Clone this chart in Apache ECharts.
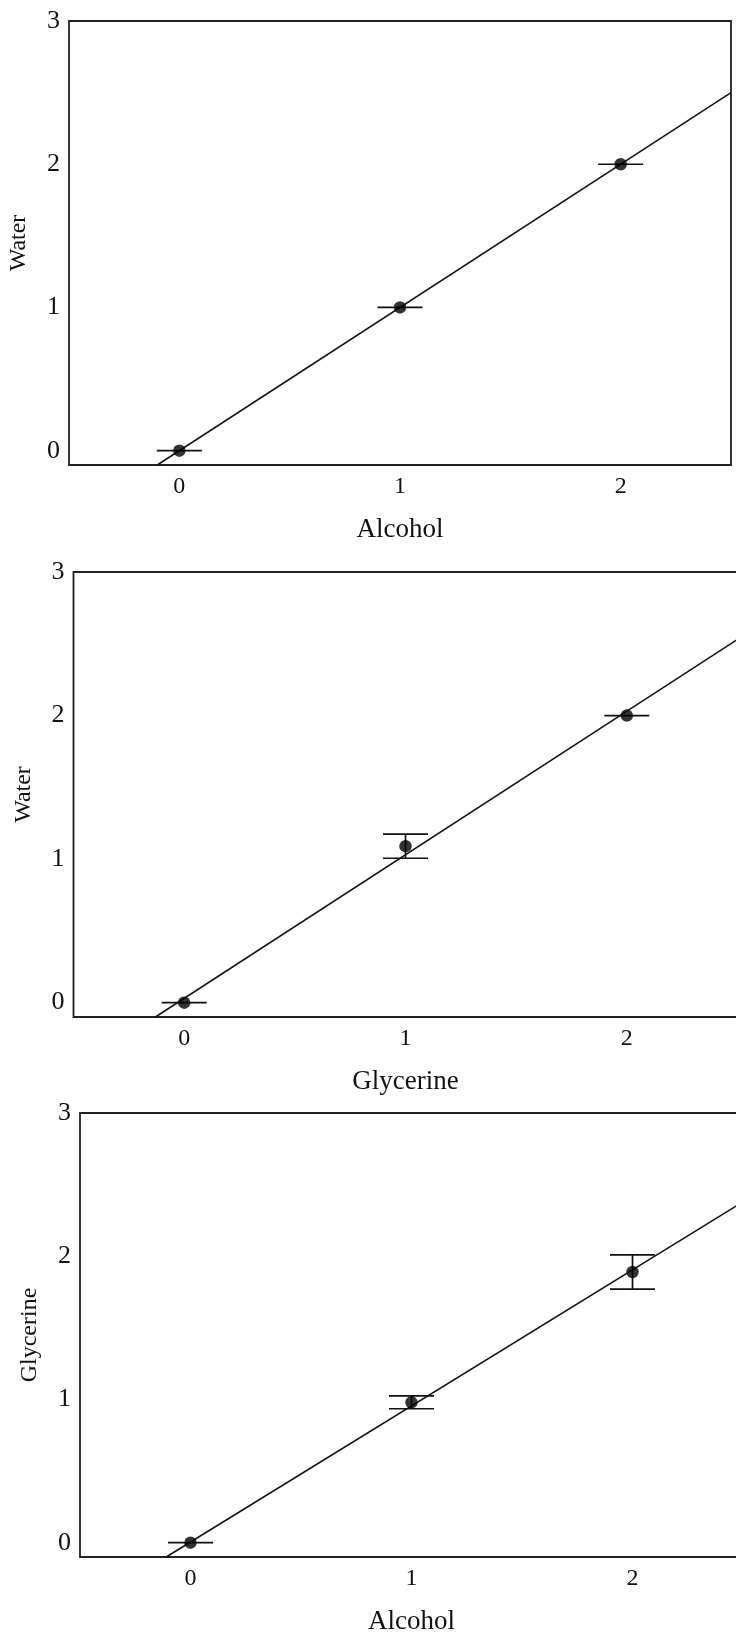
<!DOCTYPE html>
<html>
<head>
<meta charset="utf-8">
<script src="https://cdn.jsdelivr.net/npm/echarts@6/dist/echarts.min.js"></script>
<style>
  html, body { margin: 0; padding: 0; background: #ffffff; }
  #chart { width: 736px; height: 1636px; }
</style>
</head>
<body>
<div id="chart"></div>
<script>
// ---------- data ----------
const xTicks = [0, 1, 2];
const yTicks = [0, 1, 2, 3];
const xNames = ['Alcohol', 'Glycerine', 'Alcohol'];
const yNames = ['Water', 'Water', 'Glycerine'];

// panel 1: Water vs Alcohol
const p1X = [0, 1, 2];
const p1Y = [0, 1, 2];
const p1Err = [0, 0, 0];
const fit1 = [[-0.1, -0.1], [2.5, 2.5]];

// panel 2: Water vs Glycerine
const p2X = [0, 1, 2];
const p2Y = [0, 1.09, 2];
const p2Err = [0, 0.084, 0];
const fit2 = [[-0.13, -0.1], [2.5, 2.53]];

// panel 3: Glycerine vs Alcohol
const p3X = [0, 1, 2];
const p3Y = [0, 0.98, 1.89];
const p3Err = [0, 0.045, 0.12];
const fit3 = [[-0.11, -0.1], [2.5, 2.38]];

const panels = [
  { x: p1X, y: p1Y, e: p1Err, fit: fit1 },
  { x: p2X, y: p2Y, e: p2Err, fit: fit2 },
  { x: p3X, y: p3Y, e: p3Err, fit: fit3 }
];

// ---------- layout / style ----------
const FONT = "'Liberation Serif', 'Times New Roman', serif";
const INK = '#111111';
const gridBoxes = [
  { left: 69, top: 21, width: 662, height: 444 },
  { left: 73.5, top: 572, width: 664, height: 445 },
  { left: 80, top: 1113, width: 663, height: 444 }
];
const CAP_HALF = 22.5;

function renderErr(params, api) {
  const x = api.value(0), y = api.value(1), e = api.value(2);
  const top = api.coord([x, y + e]);
  const bot = api.coord([x, y - e]);
  const style = { stroke: INK, lineWidth: 1.7, fill: null };
  const children = [];
  if (e > 0) {
    children.push({ type: 'line', shape: { x1: top[0], y1: top[1], x2: bot[0], y2: bot[1] }, style: style });
  }
  children.push({ type: 'line', shape: { x1: top[0] - CAP_HALF, y1: top[1], x2: top[0] + CAP_HALF, y2: top[1] }, style: style });
  if (e > 0) {
    children.push({ type: 'line', shape: { x1: bot[0] - CAP_HALF, y1: bot[1], x2: bot[0] + CAP_HALF, y2: bot[1] }, style: style });
  }
  return { type: 'group', children: children };
}

const grid = [], xAxis = [], yAxis = [], series = [];
panels.forEach(function (p, i) {
  grid.push(Object.assign({
    show: true, borderColor: '#222222', borderWidth: 1.8, backgroundColor: '#ffffff',
    containLabel: false, outerBoundsMode: 'none'
  }, gridBoxes[i]));
  xAxis.push({
    type: 'value', gridIndex: i, min: -0.5, max: 2.5,
    name: xNames[i], nameLocation: 'middle', nameGap: 51,
    nameTextStyle: { fontFamily: FONT, fontSize: 27, color: INK },
    axisLine: { show: false }, axisTick: { show: false }, splitLine: { show: false },
    axisLabel: { customValues: xTicks, margin: 10, fontFamily: FONT, fontSize: 24, color: INK }
  });
  yAxis.push({
    type: 'value', gridIndex: i, min: -0.1, max: 3,
    name: yNames[i], nameLocation: 'middle', nameGap: 38,
    nameTextStyle: { fontFamily: FONT, fontSize: 24, color: INK },
    axisLine: { show: false }, axisTick: { show: false }, splitLine: { show: false },
    axisLabel: { customValues: yTicks, margin: 9, fontFamily: FONT, fontSize: 26, color: INK }
  });
  series.push({
    type: 'line', xAxisIndex: i, yAxisIndex: i, data: p.fit,
    showSymbol: false, symbol: 'none', clip: true, silent: true,
    lineStyle: { color: INK, width: 1.5 }, z: 2
  });
  series.push({
    type: 'custom', xAxisIndex: i, yAxisIndex: i, clip: true, z: 3,
    renderItem: renderErr,
    encode: { x: 0, y: 1 },
    data: p.x.map(function (xv, k) { return [xv, p.y[k], p.e[k]]; })
  });
  series.push({
    type: 'scatter', xAxisIndex: i, yAxisIndex: i, symbol: 'circle', symbolSize: 12.5,
    itemStyle: { color: '#000000' }, z: 4,
    data: p.x.map(function (xv, k) { return [xv, p.y[k]]; })
  });
});

const chart = echarts.init(document.getElementById('chart'), null, { renderer: 'canvas' });
chart.setOption({
  animation: false,
  backgroundColor: '#ffffff',
  grid: grid, xAxis: xAxis, yAxis: yAxis, series: series
});
</script>
</body>
</html>
